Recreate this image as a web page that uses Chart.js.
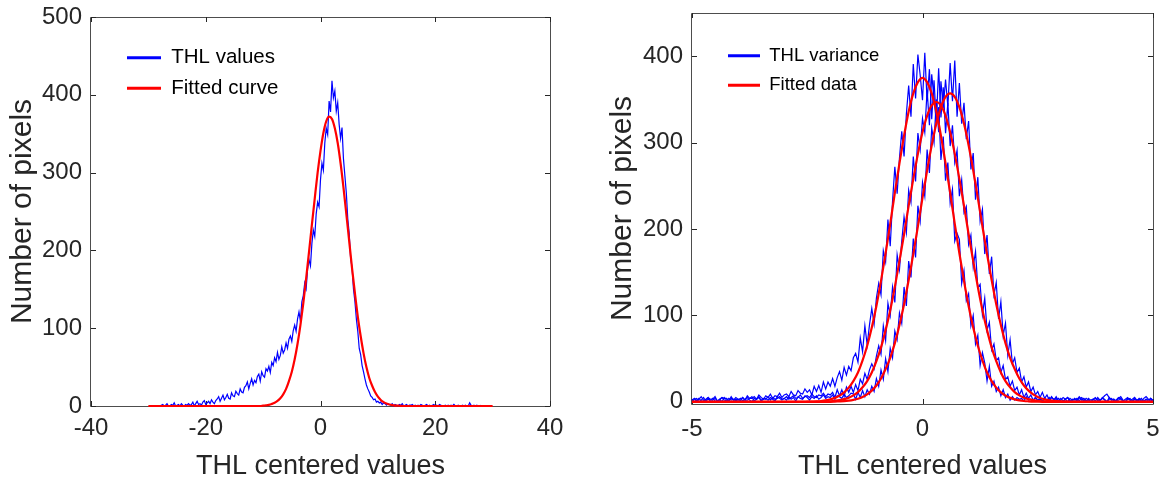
<!DOCTYPE html>
<html><head><meta charset="utf-8">
<script src="https://cdn.jsdelivr.net/npm/chart.js@4.4.1/dist/chart.umd.min.js"></script>
<style>
html,body{margin:0;padding:0;background:#fff;width:1164px;height:484px;overflow:hidden}
canvas{position:absolute;top:0}
#c1{left:0}
#c2{left:580px}
</style></head><body>
<canvas id="c1" width="580" height="484"></canvas>
<canvas id="c2" width="584" height="484"></canvas>
<script>
// ---------- tick labels ----------
const leftXTicks = [-40, -20, 0, 20, 40];
const leftYTicks = [0, 100, 200, 300, 400, 500];
const rightXTicks = [-5, 0, 5];
const rightYTicks = [0, 100, 200, 300, 400];

// ---------- left panel: THL values histogram (bins from -28, width 0.25) ----------
const thlValuesStart = -28, thlValuesStep = 0.25;
const thlValues = [
  0,1,2,0,1,3,0,0,2,1,4,0,1,2,0,3,1,0,2,1,
  3,1,2,5,0,3,6,2,3,1,5,7,2,4,6,3,8,5,3,7,
  9,12,6,10,14,8,11,15,10,9,17,13,12,19,16,14,22,18,17,24,
  26,31,22,29,35,27,33,30,38,41,32,44,39,37,48,45,51,43,56,52,
  62,57,69,60,65,76,68,72,81,74,86,90,83,97,104,96,112,121,109,134,
  142,158,151,176,188,180,209,226,218,247,262,256,291,312,303,338,357,349,392,378,
  418,396,405,379,390,362,344,358,318,296,274,241,222,190,178,150,134,112,96,74,
  66,52,44,35,27,22,18,13,11,8,9,5,6,4,5,2,4,3,1,3,
  2,1,3,0,2,1,0,2,1,3,0,1,2,0,1,1,2,0,1,0,
  1,0,2,1,0,1,2,0,1,0,1,2,0,1,0,2,1,0,0,1,
  0,1,0,1,0,2,0,0,1,0,0,1,0,1,0,0,4,1,0,1,
  0,1,0,0,1
];
// fitted curve (from -30, step 0.5)
const fittedCurveStart = -30, fittedCurveStep = 0.5;
const fittedCurve = [
  0,0,0,0,0,0,0,0,0,0,0,0,0,0,0,0,0,0,0,0,
  0,0,0,0,0,0,0,0,0,0,0,0,0,0,0,0,0,0,0,0,
  0.5,0.9,1.5,2.6,4.1,6.5,10,15,22,32,44,60,80,104,132,164,198,233,267,300,
  328,351,366,372,369,357,338,312,281,247,212,177,145,115,90,68,50,36,26,18,
  12,7.8,5,3.1,1.9,1.1,0.6,0.4,0.2,
  0,0,0,0,0,0,0,0,0,0,0,0,0,0,0,0,0,0,0,0,0,0,0,0,0,0,0,0,0,0,0,0
];

// ---------- right panel: THL variance histograms (from -5, step 0.05) ----------
const varStart = -5, varStep = 0.05;
const thlVarianceA = [
  2,4,1,3,6,2,1,5,3,3,6,1,2,5,4,4,1,6,2,5,3,
  3,5,2,7,4,4,6,3,8,5,3,7,5,9,4,7,6,10,5,8,
  9,6,12,8,7,13,10,9,15,11,
  14,8,18,12,19,11,23,15,23,18,
  27,18,28,35,25,40,31,41,36,51,
  56,46,74,58,88,66,89,108,90,120,
  137,124,175,162,211,180,232,272,241,282,
  313,284,333,366,330,391,351,402,378,349,
  404,348,385,327,372,324,341,280,307,256,
  277,230,246,186,195,188,137,152,117,125,
  88,100,67,77,42,57,45,24,41,18,
  24,12,17,7,14,5,9,2,6,2,
  5,3,4,1,6,2,3,1,5,2,
  3,1,4,2,0,5,3,2,4,1,0,3,5,2,1,4,2,6,3,1,
  4,2,0,3,5,1,2,4,3,0,5,2,3,1,4,6,2,0,3,4,
  1,5,2,3,0,4,6,3,2,1
];
const thlVarianceB = [
  1,3,4,0,2,5,1,3,2,4,1,0,3,5,2,1,4,2,3,1,
  3,1,5,2,2,4,6,1,3,5,2,4,3,6,2,5,3,4,6,3,
  4,6,3,5,7,4,5,8,4,6,7,5,9,6,5,8,7,10,6,9,
  8,
  11,5,14,7,14,6,17,11,18,11,
  20,13,26,21,33,26,37,44,38,53,
  65,55,88,71,114,100,133,115,170,153,
  186,214,196,245,231,284,255,311,292,328,
  312,361,320,379,351,323,386,329,364,311,
  346,296,320,277,291,238,257,219,226,182,
  193,156,174,132,136,101,120,83,92,60,
  67,48,51,34,42,26,29,18,24,13,
  17,8,14,5,10,4,8,2,5,2,
  4,1,3,2,5,0,3,4,1,2,5,3,0,4,2,3,1,5,2,4,
  1,3,0,2,4,3,1,5,2,0,3,4,1,2,5,3,1,0,4,2,
  3,5,1,2,4,0,3,2,4,1
];
const thlVarianceC = [
  3,0,2,4,1,1,3,5,0,2,4,1,3,0,5,2,1,4,2,3,
  2,4,1,3,5,2,0,4,3,6,1,3,4,2,5,3,1,6,4,2,
  4,2,6,3,5,1,6,4,3,7,5,2,6,4,7,3,5,8,4,6,
  5,8,3,7,6,4,9,5,7,10,
  9,3,11,5,13,6,14,9,18,12,
  27,18,37,26,50,35,62,51,82,72,
  103,91,133,111,163,144,189,167,227,209,
  254,238,292,265,317,300,350,312,371,340,
  373,342,392,348,395,330,369,322,346,304,
  325,269,288,234,260,209,223,171,193,148,
  168,124,138,96,116,77,91,54,72,44,
  51,34,39,23,29,17,23,12,17,8,
  12,5,11,4,8,2,6,2,6,1,
  4,1,3,5,0,3,2,4,1,5,3,0,4,2,3,1,5,2,4,7,
  9,5,2,3,0,2,4,1,3,5,2,0,3,1,4,2,1,3,0,4,
  2
];
// fitted data (from -5, step 0.1)
const fitStart = -5, fitStep = 0.1;
const fittedDataA = [
  0,0,0,0,0,0,0,0,0,0,0,0,0,0,0,0,0,0,0,0,0,0,0,0,0,
  0.2,0.3,0.6,1.0,1.7,2.8,4.6,7.2,11,16.5,24,34,48,65,86,111,140,172,206,242,
  276,308,336,357,370,375,370,357,336,308,276,
  242,206,172,140,111,86,65,48,34,24,16.5,11,7.2,4.6,2.8,1.7,1.0,0.6,0.3,0.2,
  0,0,0,0,0,0,0,0,0,0,0,0,0,0,0,0,0,0,0,0,0,0,0,0,0
];
const fittedDataB = [
  0,0,0,0,0,0,0,0,0,0,0,0,0,0,0,0,0,0,0,0,0,0,0,0,0,0,0,0,
  0.2,0.4,0.6,1.1,1.9,3.1,4.8,7.5,11.3,16.8,24,34,47,63,83,106,133,163,194,227,
  258,287,312,331,343,347,343,331,312,287,258,
  227,194,163,133,106,83,63,47,34,24,16.8,11.3,7.5,4.8,3.1,1.9,1.1,0.6,0.4,0.2,
  0,0,0,0,0,0,0,0,0,0,0,0,0,0,0,0,0,0,0,0,0,0
];
const fittedDataC = [
  0,0,0,0,0,0,0,0,0,0,0,0,0,0,0,0,0,0,0,0,0,0,0,0,0,0,0,0,0,0,0,
  0.3,0.5,0.8,1.4,2.3,3.6,5.7,8.7,13,18.9,27,38,51,68,89,113,141,171,203,236,
  268,297,322,341,353,357,353,341,322,297,268,
  236,203,171,141,113,89,68,51,38,27,18.9,13,8.7,5.7,3.6,2.3,1.4,0.8,0.5,0.3,
  0,0,0,0,0,0,0,0,0,0,0,0,0,0,0,0,0,0,0
];

// ---------- helpers ----------
const FONT = "'Liberation Sans', Arial, Helvetica, sans-serif";
const TEXT = '#262626';
const BLUE = '#0000ff', RED = '#ff0000';
function pts(start, step, vals) {
  return vals.map((v, i) => ({x: +(start + i * step).toFixed(4), y: v}));
}
function blueSet(label, start, step, vals) {
  return {label, data: pts(start, step, vals), borderColor: BLUE, backgroundColor: BLUE,
    borderWidth: 1.2, pointRadius: 0, tension: 0, order: 1, clip: false};
}
function redSet(label, start, step, vals) {
  return {label, data: pts(start, step, vals), borderColor: RED, backgroundColor: RED,
    borderWidth: 2.2, pointRadius: 0, cubicInterpolationMode: 'monotone', order: 0, clip: false};
}

const framePlugin = {
  id: 'frame',
  beforeDatasetsDraw(chart) {
    const {ctx, chartArea: {left, right, top, bottom}, scales: {x, y}} = chart;
    ctx.save();
    ctx.strokeStyle = '#4d4d4d';
    ctx.lineWidth = 1;
    ctx.beginPath();
    ctx.rect(left - 0.5, top + 0.5, right - left + 1, bottom - top);
    ctx.stroke();
    ctx.strokeStyle = '#262626';
    ctx.beginPath();
    x.ticks.forEach(t => {
      const p = Math.round(x.getPixelForValue(t.value)) + 0.5;
      ctx.moveTo(p, bottom); ctx.lineTo(p, bottom - 5);
      ctx.moveTo(p, top); ctx.lineTo(p, top + 5);
    });
    y.ticks.forEach(t => {
      const p = Math.round(y.getPixelForValue(t.value)) + 0.5;
      ctx.moveTo(left, p); ctx.lineTo(left + 5, p);
      ctx.moveTo(right, p); ctx.lineTo(right - 5, p);
    });
    ctx.stroke();
    ctx.restore();
  }
};
const legendPlace = {
  id: 'legendPlace',
  beforeDraw(chart, args, opts) {
    const lg = chart.legend;
    if (!lg) return;
    lg.left = opts.left; lg.top = opts.top;
    lg.right = opts.left + 400; lg.bottom = chart.height;
  }
};

function makeChart(id, cfg) {
  return new Chart(document.getElementById(id), {
    type: 'line',
    data: {datasets: cfg.datasets},
    options: {
      responsive: false, animation: false, devicePixelRatio: 1,
      events: [],
      layout: {padding: cfg.padding},
      scales: {
        x: {
          type: 'linear', min: cfg.xMin, max: cfg.xMax,
          afterBuildTicks: s => { s.ticks = cfg.xTicks.map(v => ({value: v})); },
          afterFit: s => { s.height = cfg.xHeight; s.paddingLeft = 0; s.paddingRight = 0; },
          grid: {display: false, drawTicks: false}, border: {display: false},
          ticks: {color: TEXT, font: {family: FONT, size: 24, lineHeight: 1.2}, padding: cfg.xTickPad, maxRotation: 0, autoSkip: false},
          title: {display: true, text: 'THL centered values', color: TEXT,
            font: {family: FONT, size: 27, lineHeight: 1.2}, padding: {top: 0, bottom: 1}}
        },
        y: {
          type: 'linear', min: cfg.yMin, max: cfg.yMax,
          afterBuildTicks: s => { s.ticks = cfg.yTicks.map(v => ({value: v})); },
          afterFit: s => { s.width = cfg.yWidth; s.paddingTop = 0; s.paddingBottom = 0; },
          grid: {display: false, drawTicks: false}, border: {display: false},
          ticks: {color: TEXT, font: {family: FONT, size: 24, lineHeight: 1.2}, padding: 9, autoSkip: false},
          title: {display: true, text: 'Number of pixels', color: TEXT,
            font: {family: FONT, size: 30, lineHeight: 1.2}, padding: {top: cfg.yTitlePad, bottom: 0}}
        }
      },
      plugins: {
        tooltip: {enabled: false},
        legend: {
          position: 'chartArea', align: 'start',
          labels: {
            boxWidth: cfg.legBox, boxHeight: 3, padding: cfg.legPad, color: '#000',
            font: {family: FONT, size: cfg.legFont},
            generateLabels: chart => {
              const items = Chart.defaults.plugins.legend.labels.generateLabels(chart);
              items.forEach(it => { it.fillStyle = it.strokeStyle; it.lineWidth = 0; });
              return items;
            },
            filter: (item, data) => data.datasets.findIndex(d => d.label === item.text) === item.datasetIndex,
            sort: (a, b) => a.datasetIndex - b.datasetIndex
          }
        },
        legendPlace: cfg.legPos
      }
    },
    plugins: [framePlugin, legendPlace]
  });
}

makeChart('c1', {
  datasets: [
    blueSet('THL values', thlValuesStart, thlValuesStep, thlValues),
    redSet('Fitted curve', fittedCurveStart, fittedCurveStep, fittedCurve)
  ],
  padding: {left: 0, top: 17, right: 30, bottom: 0},
  xMin: -40, xMax: 40, xTicks: leftXTicks, xHeight: 78, xTickPad: 8,
  yMin: 0, yMax: 500, yTicks: leftYTicks, yWidth: 91, yTitlePad: 5,
  legBox: 34, legPad: 10, legFont: 20.5, legPos: {left: 117, top: 37.5}
});

makeChart('c2', {
  datasets: [
    blueSet('THL variance', varStart, varStep, thlVarianceA),
    blueSet('THL variance', varStart, varStep, thlVarianceB),
    blueSet('THL variance', varStart, varStep, thlVarianceC),
    redSet('Fitted data', fitStart, fitStep, fittedDataA),
    redSet('Fitted data', fitStart, fitStep, fittedDataB),
    redSet('Fitted data', fitStart, fitStep, fittedDataC)
  ],
  padding: {left: 0, top: 13, right: 11, bottom: 0},
  xMin: -5, xMax: 5, xTicks: rightXTicks, xHeight: 80, xTickPad: 11,
  yMin: -2.5, yMax: 450, yTicks: rightYTicks, yWidth: 112, yTitlePad: 25,
  legBox: 32, legPad: 11, legFont: 18.5, legPos: {left: 137, top: 35.5}
});
</script>
</body></html>
